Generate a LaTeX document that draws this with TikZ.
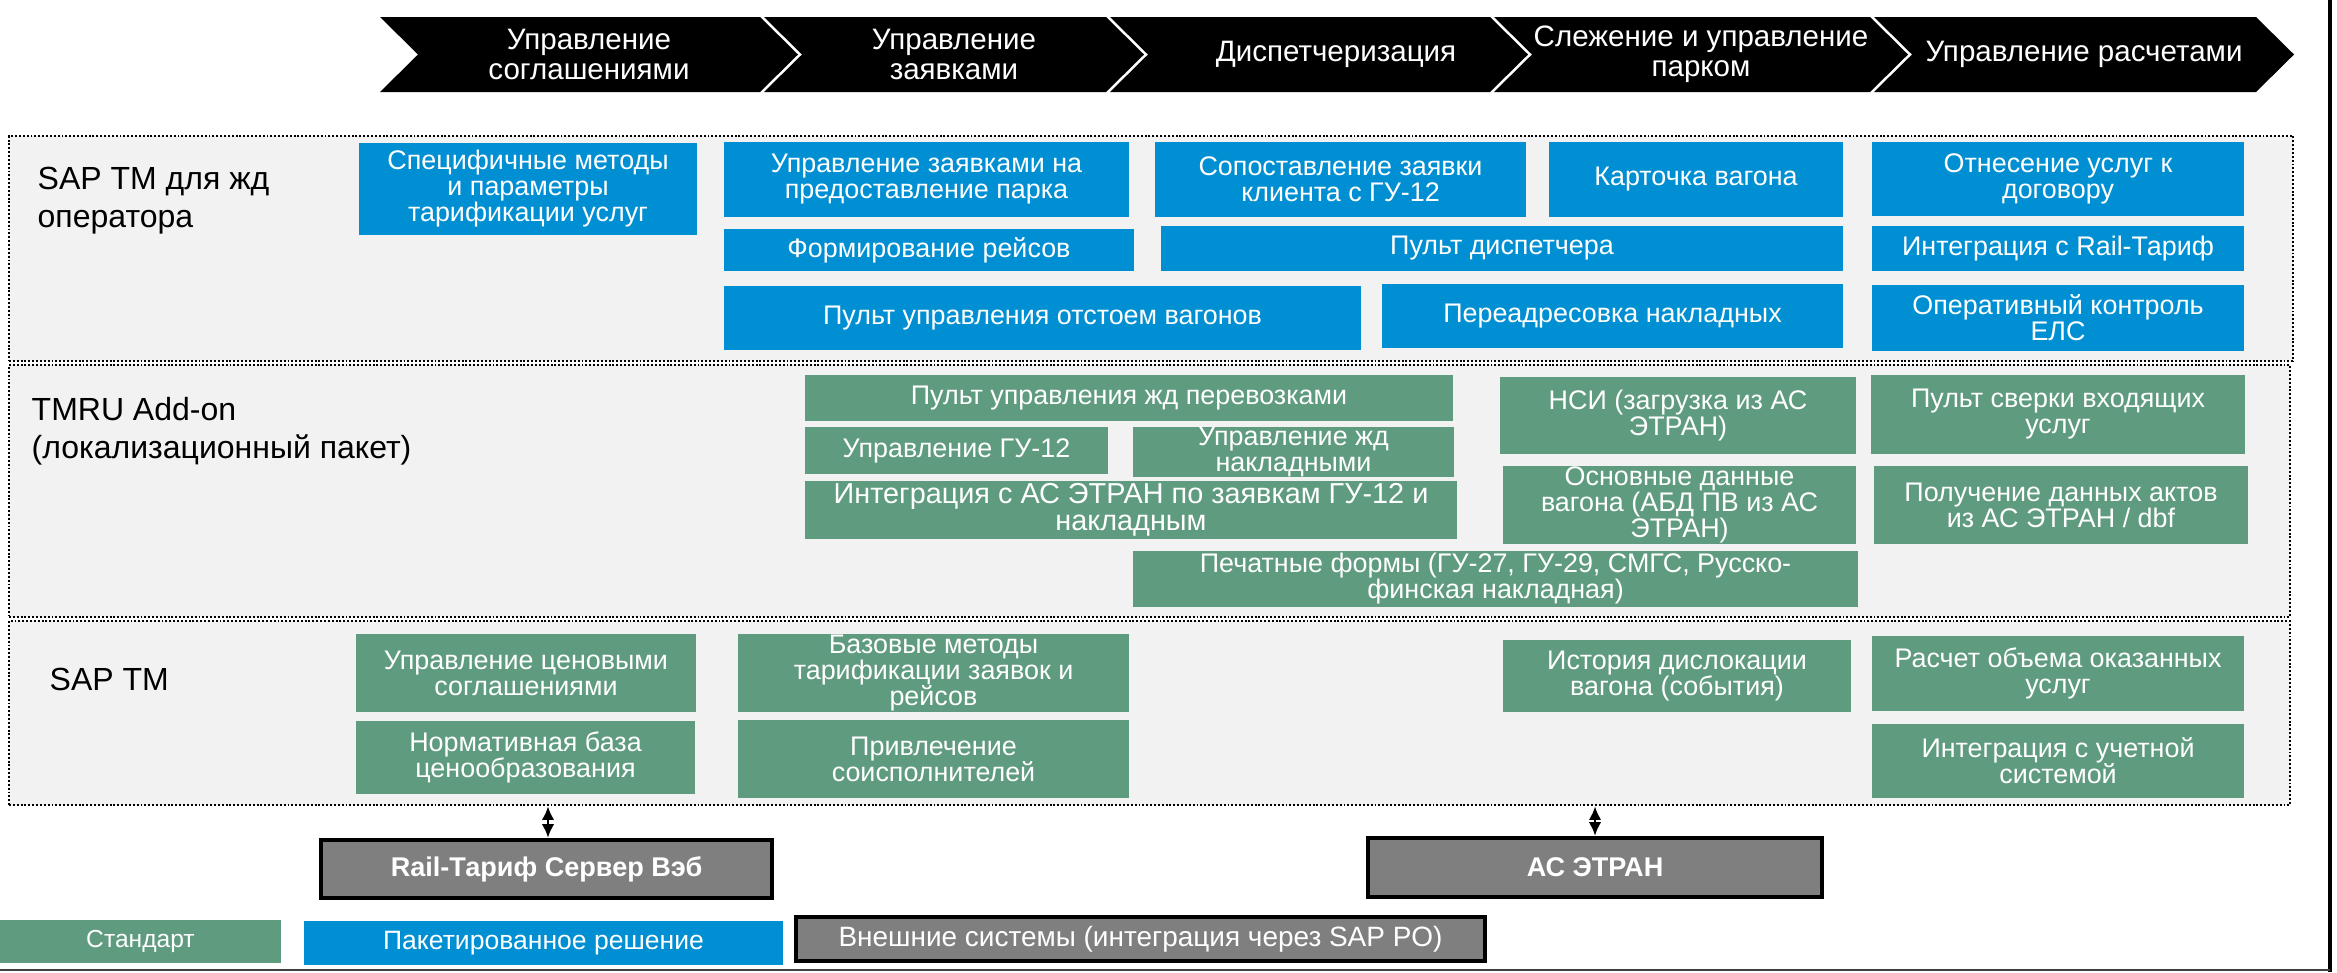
\documentclass[tikz,border=0pt]{standalone}
\usepackage{fontspec}
\setmainfont{Liberation Sans}
\usetikzlibrary{arrows.meta}

\definecolor{sapblue}{HTML}{008FD3}
\definecolor{stdgreen}{HTML}{5F9B7F}
\definecolor{panelgray}{HTML}{F2F2F2}
\definecolor{extgray}{HTML}{7F7F7F}

\begin{document}
\begin{tikzpicture}[x = 0.01cm, y = -0.01cm,
    wh/.style 2 args = {minimum width = #1*0.01cm, minimum height = #2*0.01cm},
    panel/.style = {draw = black, dash pattern = on 0.55pt off 0.55pt, line width = 0.7pt, fill = panelgray, inner sep = 0pt},
    tbox/.style = {inner sep = 0pt, text = white, align = center, font = \fontsize{7.65}{7.4}\selectfont},
    pack/.style = {tbox, fill = sapblue},
    std/.style = {tbox, fill = stdgreen},
    ext/.style = {tbox, fill = extgray, draw = black, line width = 1.2pt, font = \bfseries\fontsize{7.7}{9}\selectfont},
    layer/.style = {anchor = west, align = left, inner sep = 0pt, font = \fontsize{9.1}{10.8}\selectfont},
    phase/.style = {text = white, align = center, inner sep = 0pt, font = \fontsize{8.4}{8.4}\selectfont},
    link/.style = {{Latex[length = 3.9pt, width = 3.6pt]}-{Latex[length = 3.9pt, width = 3.6pt]}, line width = 0.8pt}
]

        \useasboundingbox (0,0) rectangle (2337,972);

        % Process chain on top.
        \foreach \xa/\xb/\dx/\ph/\txt in {
            380/760/19/agr/{Управление\\соглашениями},
            764/1106/19/ord/{Управление\\заявками},
            1110/1490/36/disp/{Диспетчеризация},
            1494/1870/19/fleet/{Слежение и управление\\парком},
            1874/2256/19/bill/{Управление расчетами}}
        {
            \fill (\xa,17) -- (\xb,17) -- (\xb+38,54.5) -- (\xb,92) -- (\xa,92) -- (\xa+38,54.5) -- cycle;
            \node[phase] (ph-\ph) at ({(\xa+\xb)/2+\dx},54.5) {\txt};
        }

        % The three layers.
        \node[panel, wh = {2284}{225}] (rail) at (1151,248.5) {};
        \node[panel, wh = {2281}{252}] (tmru) at (1149.5,491) {};
        \node[panel, wh = {2281}{184}] (core) at (1149.5,713) {};

        \node[layer] (rail-lbl) at (37,201) {SAP TM для жд\\оператора};
        \node[layer] (tmru-lbl) at (31,431) {TMRU Add-on\\(локализационный пакет)};
        \node[layer] (core-lbl) at (49,679) {SAP TM};

        % SAP TM for rail operator.
        \node[pack, wh = {338}{92}] (b-tariff) at (528,189) {Специфичные методы\\и параметры\\тарификации услуг};
        \node[pack, wh = {405}{75}] (b-fleetreq) at (926.5,179.5) {Управление заявками на\\предоставление парка};
        \node[pack, wh = {410}{42}] (b-trips) at (929,250) {Формирование рейсов};
        \node[pack, wh = {637}{64}] (b-idle) at (1042.5,318) {Пульт управления отстоем вагонов};
        \node[pack, wh = {371}{75}] (b-match) at (1340.5,179.5) {Сопоставление заявки\\клиента с ГУ-12};
        \node[pack, wh = {294}{75}] (b-card) at (1696,179.5) {Карточка вагона};
        \node[pack, wh = {372}{74}] (b-contract) at (2058,179) {Отнесение услуг к\\договору};
        \node[pack, wh = {682}{45}] (b-dispatch) at (1502,248.5) {Пульт диспетчера};
        \node[pack, wh = {372}{45}] (b-railtar) at (2058,248.5) {Интеграция с Rail-Тариф};
        \node[pack, wh = {461}{64}] (b-redirect) at (1612.5,316) {Переадресовка накладных};
        \node[pack, wh = {372}{66}] (b-els) at (2058,318) {Оперативный контроль\\ЕЛС};

        % TMRU add-on.
        \node[std, wh = {648}{46}] (g-console) at (1129,398) {Пульт управления жд перевозками};
        \node[std, wh = {303}{47}] (g-gu12) at (956.5,450.5) {Управление ГУ-12};
        \node[std, wh = {321}{48}] (g-waybill) at (1293.5,452) {Управление жд\\накладными};
        \node[std, wh = {652}{58}, font = \fontsize{8.2}{7.6}\selectfont] (g-etran) at (1131,510) {Интеграция с АС ЭТРАН по заявкам ГУ-12 и\\накладным};
        \node[std, wh = {725}{56}] (g-print) at (1495.5,579) {Печатные формы (ГУ-27, ГУ-29, СМГС, Русско-\\финская накладная)};
        \node[std, wh = {356}{77}] (g-nsi) at (1678,415.5) {НСИ (загрузка из АС\\ЭТРАН)};
        \node[std, wh = {374}{79}] (g-recon) at (2058,414.5) {Пульт сверки входящих\\услуг};
        \node[std, wh = {353}{78}] (g-wagon) at (1679.5,505) {Основные данные\\вагона (АБД ПВ из АС\\ЭТРАН)};
        \node[std, wh = {374}{78}] (g-acts) at (2061,505) {Получение данных актов\\из АС ЭТРАН / dbf};

        % Standard SAP TM.
        \node[std, wh = {340}{78}] (s-price) at (526,673) {Управление ценовыми\\соглашениями};
        \node[std, wh = {339}{73}] (s-norm) at (525.5,757.5) {Нормативная база\\ценообразования};
        \node[std, wh = {391}{78}] (s-base) at (933.5,673) {Базовые методы\\тарификации заявок и\\рейсов};
        \node[std, wh = {391}{78}] (s-subcon) at (933.5,759) {Привлечение\\соисполнителей};
        \node[std, wh = {348}{72}] (s-history) at (1677,676) {История дислокации\\вагона (события)};
        \node[std, wh = {372}{75}] (s-volume) at (2058,673.5) {Расчет объема оказанных\\услуг};
        \node[std, wh = {372}{74}] (s-account) at (2058,761) {Интеграция с учетной\\системой};

        % External systems.
        \node[ext, wh = {451}{58}] (x-railtar) at (546.5,869) {Rail-Тариф Сервер Вэб};
        \node[ext, wh = {454}{59}] (x-etran) at (1595,867.5) {АС ЭТРАН};
        \draw[link] (x-railtar.north -| 548,0) -- (548,0 |- core.south);
        \draw[link] (x-etran.north) -- (x-etran.north |- core.south);

        % Legend.
        \node[std, wh = {281}{43}, font = \fontsize{7}{7}\selectfont] (leg-std) at (140.5,941.5) {Стандарт};
        \node[pack, wh = {479}{44}, font = \fontsize{7.55}{8}\selectfont] (leg-pack) at (543.5,943) {Пакетированное решение};
        \node[ext, wh = {689}{44}, font = \fontsize{7.95}{8}\selectfont] (leg-ext) at (1140.5,939) {Внешние системы (интеграция через SAP PO)};

        % Slide frame.
        \draw[line width = 0.9pt] (2330,0) -- (2330,972);
        \draw[line width = 0.6pt, black!75] (0,970) -- (2330,970);
    \end{tikzpicture}
\end{document}
